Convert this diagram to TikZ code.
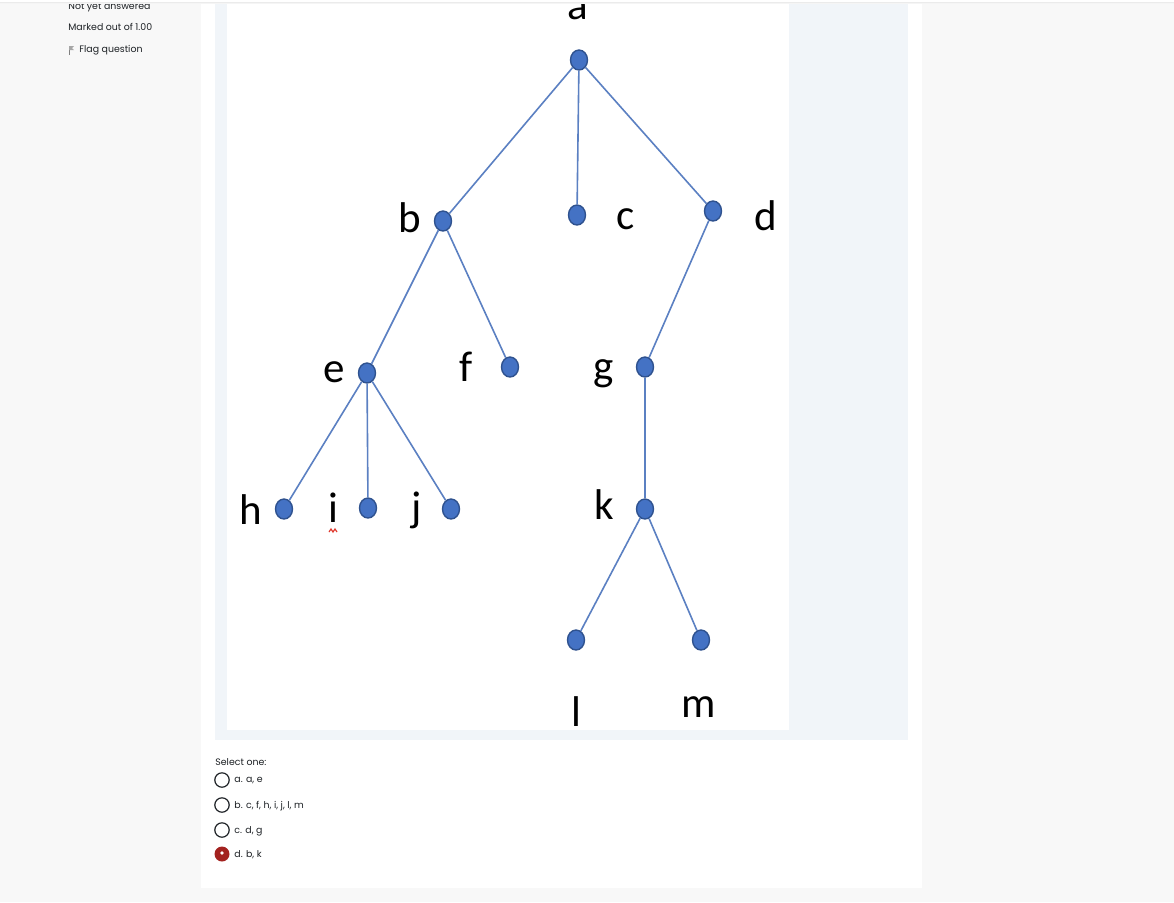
\documentclass[tikz,border=0pt]{standalone}
\usepackage{fontspec}
\setmainfont{Poppins}
\newfontfamily\calibri{Carlito}
\usetikzlibrary{shapes.geometric}
\definecolor{pagegray}{HTML}{F8F8F8}
\definecolor{panelblue}{HTML}{F1F5F9}
\definecolor{vfill}{HTML}{4472C4}
\definecolor{vdraw}{HTML}{2F528F}
\definecolor{edgeblue}{HTML}{5B80C2}
\definecolor{uitext}{HTML}{1D2125}
\definecolor{checkred}{HTML}{A3221F}
\definecolor{squiggle}{HTML}{E03A2F}
\begin{document}
\begin{tikzpicture}[x=0.5pt,y=-0.5pt]
  \useasboundingbox (0,0) rectangle (1174,902);
  % page and question panels
  \fill[pagegray] (0,0) rectangle (1174,902);
  \fill[white] (201,0) rectangle (922,888);
  \fill[panelblue] (215,0) rectangle (908,740);
  \fill[white] (227,0) rectangle (789,730);

  % the tree
  \begin{scope}[every node/.style={ellipse,draw=vdraw,fill=vfill,line width=0.7pt,
      minimum width=8.5pt,minimum height=10pt,inner sep=0pt}]
    \node (a) at (579,60) {};
    \node (b) at (443,221) {};
    \node (c) at (577,215) {};
    \node (d) at (713,211) {};
    \node (e) at (367,373) {};
    \node (f) at (510,367) {};
    \node (g) at (645,367) {};
    \node (h) at (284,509) {};
    \node (i) at (368,508) {};
    \node (j) at (451,509) {};
    \node (k) at (645,509) {};
    \node (l) at (576,640) {};
    \node (m) at (701,640) {};
  \end{scope}
  \begin{scope}[every path/.style={draw=edgeblue,line width=0.8pt}]
    \path (a) -- (b);
    \path (a) -- (c);
    \path (a) -- (d);
    \path (b) -- (e);
    \path (b) -- (f);
    \path (d) -- (g);
    \path (e) -- (h);
    \path (e) -- (i);
    \path (e) -- (j);
    \path (g) -- (k);
    \path (k) -- (l);
    \path (k) -- (m);
  \end{scope}
  \begin{scope}[every node/.style={font=\calibri\fontsize{21.5}{25}\selectfont,inner sep=0pt}]
    \node (la) at (578,9) {a};
    \node (lb) at (410,218) {b};
    \node (lc) at (626,219) {c};
    \node (ld) at (766,216) {d};
    \node (le) at (334,372) {e};
    \node (lf) at (466,367) {f};
    \node (lg) at (604,374) {g};
    \node (lh) at (251,510) {h};
    \node (li) at (333,508) {i};
    \node (lj) at (417,510) {j};
    \node (lk) at (604,505) {k};
    \node (ll) at (576,712) {l};
    \node (lm) at (699,707) {m};
  \end{scope}
  \draw[squiggle,line width=0.6pt] (329,532) -- (331,529) -- (333,532) -- (335,529) -- (337,532);

  % answer options
  \begin{scope}[every node/.style={font=\fontsize{4.7}{5.5}\selectfont,text=uitext,anchor=west,inner sep=0pt}]
    \node (sel) at (215,762) {Select one:};
    \node (oa) at (234,781) {a. a, e};
    \node (ob) at (234,806) {b. c, f, h, i, j, l, m};
    \node (oc) at (234,831) {c. d, g};
    \node (od) at (234,855) {d. b, k};
    \node (st) at (68,7) {Not yet answered};
    \node (mk) at (68,27) {Marked out of 1.00};
    \node (fq) at (79,50) {Flag question};
  \end{scope}
  \begin{scope}[every path/.style={draw=uitext,line width=0.6pt}]
    \path (222,780) circle (7.2);
    \path (222,805) circle (7.2);
    \path (222,830) circle (7.2);
  \end{scope}
  \fill[checkred] (222,854) circle (7.5);
  \fill[white] (222,853) circle (1.8);
  % flag icon
  \draw[gray,line width=0.4pt] (69,55) -- (69,46);
  \fill[gray!70] (69,46) -- (74,46) -- (72,48) -- (74,50) -- (69,50) -- cycle;

  % top header edge
  \fill[white] (0,0) rectangle (1174,2);
  \fill[black!8] (0,2) rectangle (1174,3);
  \fill[black!4] (0,3) rectangle (1174,4);
\end{tikzpicture}
\end{document}
